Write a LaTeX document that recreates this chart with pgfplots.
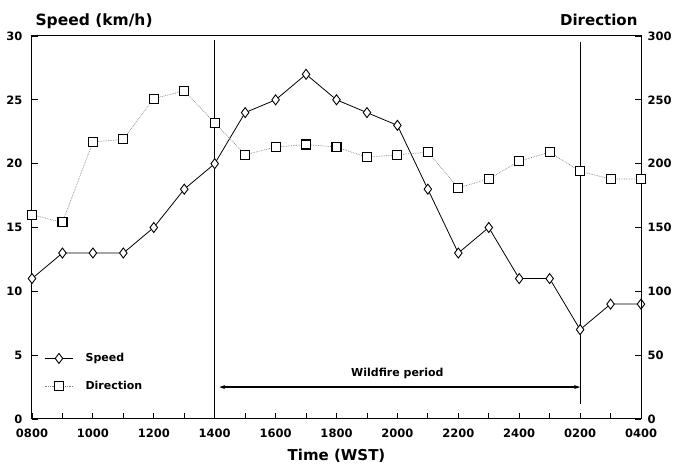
\documentclass[border=0pt]{standalone}
\usepackage{pgfplots}
\pgfplotsset{compat=1.18}
\usepackage{fontspec}
\setmainfont{DejaVu Sans}
\usetikzlibrary{arrows.meta}

\pgfplotstableread{
x speed dir
0 11 160
1 13 154
2 13 217
3 13 219
4 15 251
5 18 257
6 20 232
7 24 207
8 25 213
9 27 215
10 25 213
11 24 205
12 23 207
13 18 209
14 13 181
15 15 188
16 11 202
17 11 209
18 7 194
19 9 188
20 9 188
}\datatable

\pgfplotsset{
  common/.style={
    scale only axis, width=609pt, height=383pt,
    xmin=0, xmax=20,
    tick align=inside,
    major tick length=6pt, minor tick length=6pt,
    tick style={black, line width=0.9pt},
    axis line style={line width=1pt},
    /pgf/number format/assume math mode=true,
    every tick label/.append style={font=\bfseries\fontsize{11.5}{13}\selectfont},
  },
  spd/.style={black, line width=0.8pt, mark=diamond*, mark size=5pt,
    mark options={solid, fill=white, draw=black, line width=0.9pt}},
  drc/.style={gray, densely dotted, line width=0.7pt, mark=square*, mark size=4.5pt,
    mark options={solid, fill=white, draw=black, line width=1.1pt}},
}

\begin{document}
\begin{tikzpicture}
\path[use as bounding box] (-32pt,-49pt) rectangle (654pt,419pt);
\begin{axis}[common,
  ymin=0, ymax=30,
  xtick={0,2,...,20},
  xticklabels={0800,1000,1200,1400,1600,1800,2000,2200,2400,0200,0400},
  minor xtick={1,3,...,19},
  xtick pos=bottom, ytick pos=left,
  ytick={0,5,...,30},
  xticklabel style={yshift=-6pt},
  yticklabel style={xshift=-6pt},
  clip=false,
]
\draw[black, line width=1pt] (axis cs:6,0) -- (axis cs:6,29.7);
\draw[black, line width=1pt] (axis cs:18,1.2) -- (axis cs:18,29.5);
\draw[{Stealth[length=6pt,width=4pt]}-{Stealth[length=6pt,width=4pt]}, line width=1.6pt]
  (axis cs:6.15,2.5) -- (axis cs:18,2.5);
\node[anchor=base, font=\bfseries\fontsize{11}{13}\selectfont] at (axis cs:12,3.3) {Wildfire period};
\addplot[spd] table[x=x, y=speed] {\datatable};
\node[anchor=base west, font=\bfseries\fontsize{15.5}{17}\selectfont] at (rel axis cs:0,1) [yshift=10pt] {Speed (km/h)};
\node[anchor=base east, font=\bfseries\fontsize{15}{17}\selectfont] at (rel axis cs:1,1) [yshift=10pt] {Direction};
\node[anchor=base, font=\bfseries\fontsize{15}{17}\selectfont] at (rel axis cs:0.5,0) [yshift=-42pt] {Time (WST)};
\end{axis}
\begin{axis}[common,
  axis y line*=right, axis x line=none,
  ymin=0, ymax=300,
  ytick={0,50,...,300},
  yticklabel style={xshift=3pt},
  clip=false,
  legend style={draw=none, fill=none, at={(rel axis cs:0.015,0.182)}, anchor=north west,
    font=\bfseries\fontsize{11}{13}\selectfont, row sep=14pt,
    /tikz/every odd column/.append style={column sep=10pt}},
  legend cell align=left,
  legend image code/.code={\draw[#1, mark repeat=2, mark phase=2] plot coordinates {(0cm,0cm) (0.5cm,0cm) (1.0cm,0cm)};},
]
\addlegendimage{spd}
\addlegendentry{Speed}
\addplot[drc] table[x=x, y=dir] {\datatable};
\addlegendentry{Direction}
\end{axis}
\end{tikzpicture}
\end{document}
